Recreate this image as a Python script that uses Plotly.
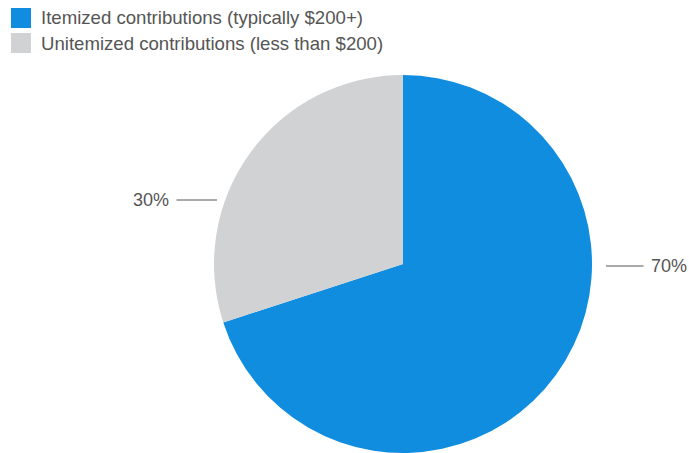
import plotly.graph_objects as go

labels = ["Itemized contributions (typically $200+)", "Unitemized contributions (less than $200)"]
values = [70, 30]
colors = ["#118DE0", "#D1D2D4"]
pct_text = ["70%", "30%"]

W, H = 689, 453
FONT = "Liberation Sans, Arial, Helvetica, sans-serif"
TXT = "#555555"

fig = go.Figure()
fig.add_trace(go.Pie(
    labels=labels,
    values=values,
    sort=False,
    direction="clockwise",
    rotation=0,
    marker=dict(colors=colors, line=dict(width=0)),
    textinfo="none",
    hoverinfo="label+percent",
    domain=dict(x=[213 / W, 593 / W], y=[0, 378 / H]),
    showlegend=False,
))

def px(x):
    return x / W

def py(y):
    return 1 - y / H

# manual legend (larger swatches than plotly's pie legend)
for i, (lab, col) in enumerate(zip(labels, colors)):
    top = 8 + 25 * i
    fig.add_shape(type="rect", xref="paper", yref="paper",
                  x0=px(11), x1=px(31), y0=py(top + 20), y1=py(top),
                  fillcolor=col, line=dict(width=0))
    fig.add_annotation(x=px(39), y=py(top + 10), xref="paper", yref="paper",
                       xanchor="left", yanchor="middle", showarrow=False,
                       text=lab, font=dict(family=FONT, size=18.6, color=TXT))

ann_style = dict(xref="paper", yref="paper", axref="pixel", ayref="pixel",
                 showarrow=True, arrowhead=0, arrowwidth=1, arrowcolor=TXT,
                 font=dict(family=FONT, size=18, color=TXT),
                 standoff=0, startstandoff=6)

fig.add_annotation(x=px(217), y=py(200), ax=-66, ay=0, text=pct_text[1], **ann_style)
fig.add_annotation(x=px(606), y=py(266), ax=63, ay=0, text=pct_text[0], **ann_style)

fig.update_layout(
    width=W, height=H,
    margin=dict(l=0, r=0, t=0, b=0),
    paper_bgcolor="white",
    plot_bgcolor="white",
    font=dict(family=FONT, size=18, color=TXT),
    showlegend=False,
)

fig.write_html("out.html", config={"displayModeBar": False},
               post_script="document.body.style.margin='0';")
